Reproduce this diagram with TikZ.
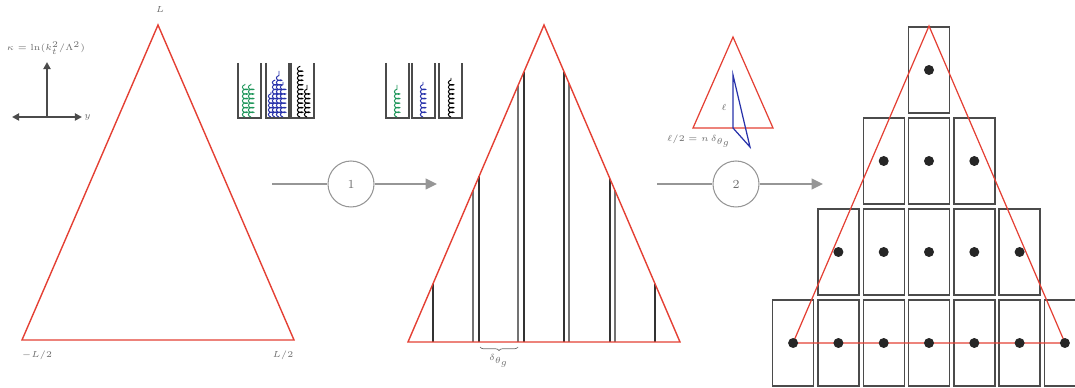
\documentclass[tikz,border=0pt]{standalone}
\usepackage{amsmath,amssymb}
\usepackage{tikz}
\usetikzlibrary{positioning, arrows.meta, calc, decorations.pathmorphing, decorations.pathreplacing}

\definecolor{trired}{RGB}{228,64,52}
\definecolor{flowgrey}{RGB}{150,150,150}
\definecolor{lblgrey}{RGB}{110,110,110}
\definecolor{wallgrey}{RGB}{75,75,75}
\definecolor{coilgreen}{RGB}{30,150,90}
\definecolor{coilblue}{RGB}{40,50,170}

\begin{document}
\begin{tikzpicture}[
        x=0.02cm, y=-0.02cm,
        font=\tiny,
        % Styles for the picture parts
        tri/.style={draw=trired, line width=0.8pt, line join=miter},
        lbl/.style={text=lblgrey, inner sep=1pt},
        axis/.style={draw=wallgrey, line width=1.1pt},
        stepnum/.style={
            circle, draw=flowgrey, line width=0.6pt,
            minimum size=0.92cm, text=lblgrey, font=\scriptsize
        },
        flowline/.style={draw=flowgrey, line width=1.2pt},
        flow/.style={flowline, -{Triangle[length=6.5pt, width=6pt]}},
        wall/.style={draw=wallgrey, line width=0.8pt},
        gluon/.style={
            decorate, line width=0.55pt,
            decoration={coil, aspect=0.5, amplitude=1.5pt, segment length=2.6pt}
        },
        bin/.style={line width=0.6pt},
        cell/.style={
            rectangle, draw=wallgrey, line width=0.8pt,
            minimum width=0.82cm, minimum height=1.72cm, inner sep=0pt
        },
        dot/.style={circle, fill=black!85, minimum size=0.2cm, inner sep=0pt}
    ]

    \clip (0,0) rectangle (1075,388);

    % 1. LEFT TRIANGLE AND AXES
    \draw[tri] (22,340) -- (158,25) -- (294,340) -- cycle;
    \node[lbl] (top) at (160,10) {$L$};
    \node[lbl] (left) at (37,355) {$-L/2$};
    \node[lbl] (right) at (283,355) {$L/2$};

    \coordinate (ax-o) at (47,117);
    \coordinate (ax-w) at (12,117);
    \coordinate (ax-e) at (82,117);
    \coordinate (ax-n) at (47,62);
    \draw[axis, {Triangle[length=4pt,width=4pt]}-{Triangle[length=4pt,width=4pt]}] (ax-w) -- (ax-e);
    \draw[axis, -{Triangle[length=4pt,width=4pt]}] (ax-o) -- (ax-n);
    \node[lbl] (kappa) at (46,48) {$\kappa=\ln(k_t^2/\Lambda^2)$};
    \node[lbl, right=0pt of ax-e] (rap) {$y$};

    % 2. BUCKETS
    \foreach \x in {238,266,291,386,412,439}
        \draw[wall] (\x,63) -- (\x,118) -- (\x+23,118) -- (\x+23,63);

    % filled buckets
    \foreach \x/\t in {245/84, 251/84}
        \draw[gluon, coilgreen] (\x,117) -- (\x,\t);
    \foreach \x/\t in {271/92, 275/80, 279/71, 283/82}
        \draw[gluon, coilblue] (\x,117) -- (\x,\t);
    \foreach \x/\t in {300/66, 307/85}
        \draw[gluon, black] (\x,117) -- (\x,\t);

    % single column buckets
    \draw[gluon, coilgreen] (397,117) -- (397,85);
    \draw[gluon, coilblue] (423,117) -- (423,82);
    \draw[gluon, black] (451,117) -- (451,78);

    % 3. STEPS
    \coordinate (s1-in) at (272,184);
    \node[stepnum] (s1) at (351,184) {1};
    \coordinate (s1-out) at (437,184);
    \draw[flowline] (s1-in) -- (s1);
    \draw[flow] (s1) -- (s1-out);

    \coordinate (s2-in) at (657,184);
    \node[stepnum] (s2) at (736,184) {2};
    \coordinate (s2-out) at (823,184);
    \draw[flowline] (s2-in) -- (s2);
    \draw[flow] (s2) -- (s2-out);

    % 4. MIDDLE TRIANGLE WITH BINS
    \foreach \x/\c in {433/black!80, 473/black!55, 479/black!80, 518/black!55, 524/black!80,
                       564/black!80, 569/black!55, 610/black!80, 615/black!55, 655/black!80}{
        \pgfmathsetmacro\ytop{342 - 2.331*min(\x-408, 680-\x)}
        \draw[bin, \c] (\x,342) -- (\x,\ytop);
    }
    \draw[tri] (408,342) -- (544,25) -- (680,342) -- cycle;
    \draw[lblgrey, line width=0.4pt, decorate, decoration={brace, mirror, amplitude=2pt}]
        (480,347) -- (518,347);
    \node[lbl] (dtheta) at (499,361) {$\delta_{\theta_g}$};

    % 5. SMALL TRIANGLE
    \draw[tri, line width=0.7pt] (693,128) -- (733,37) -- (773,128) -- cycle;
    \draw[coilblue, line width=0.7pt, line join=miter] (733,75) -- (733,128) -- (750,147) -- cycle;
    \node[lbl] (ell) at (724,107) {$\ell$};
    \node[lbl] (ellhalf) at (699,141) {$\ell/2=n\,\delta_{\theta_g}$};

    % 6. RIGHT GRID OF CELLS
    \foreach \r in {0,...,3}{
        \pgfmathtruncatemacro\n{2*\r}
        \foreach \i in {0,...,\n}
            \node[cell] (c-\r-\i) at ({929+(\i-\r)*45.3}, {70+91*\r}) {};
    }
    \draw[tri, line width=0.7pt] (793,343) -- (929,26) -- (1065,343) -- cycle;
    \foreach \r in {0,...,3}{
        \pgfmathtruncatemacro\n{2*\r}
        \foreach \i in {0,...,\n}
            \node[dot] (d-\r-\i) at (c-\r-\i.center) {};
    }

\end{tikzpicture}
\end{document}
